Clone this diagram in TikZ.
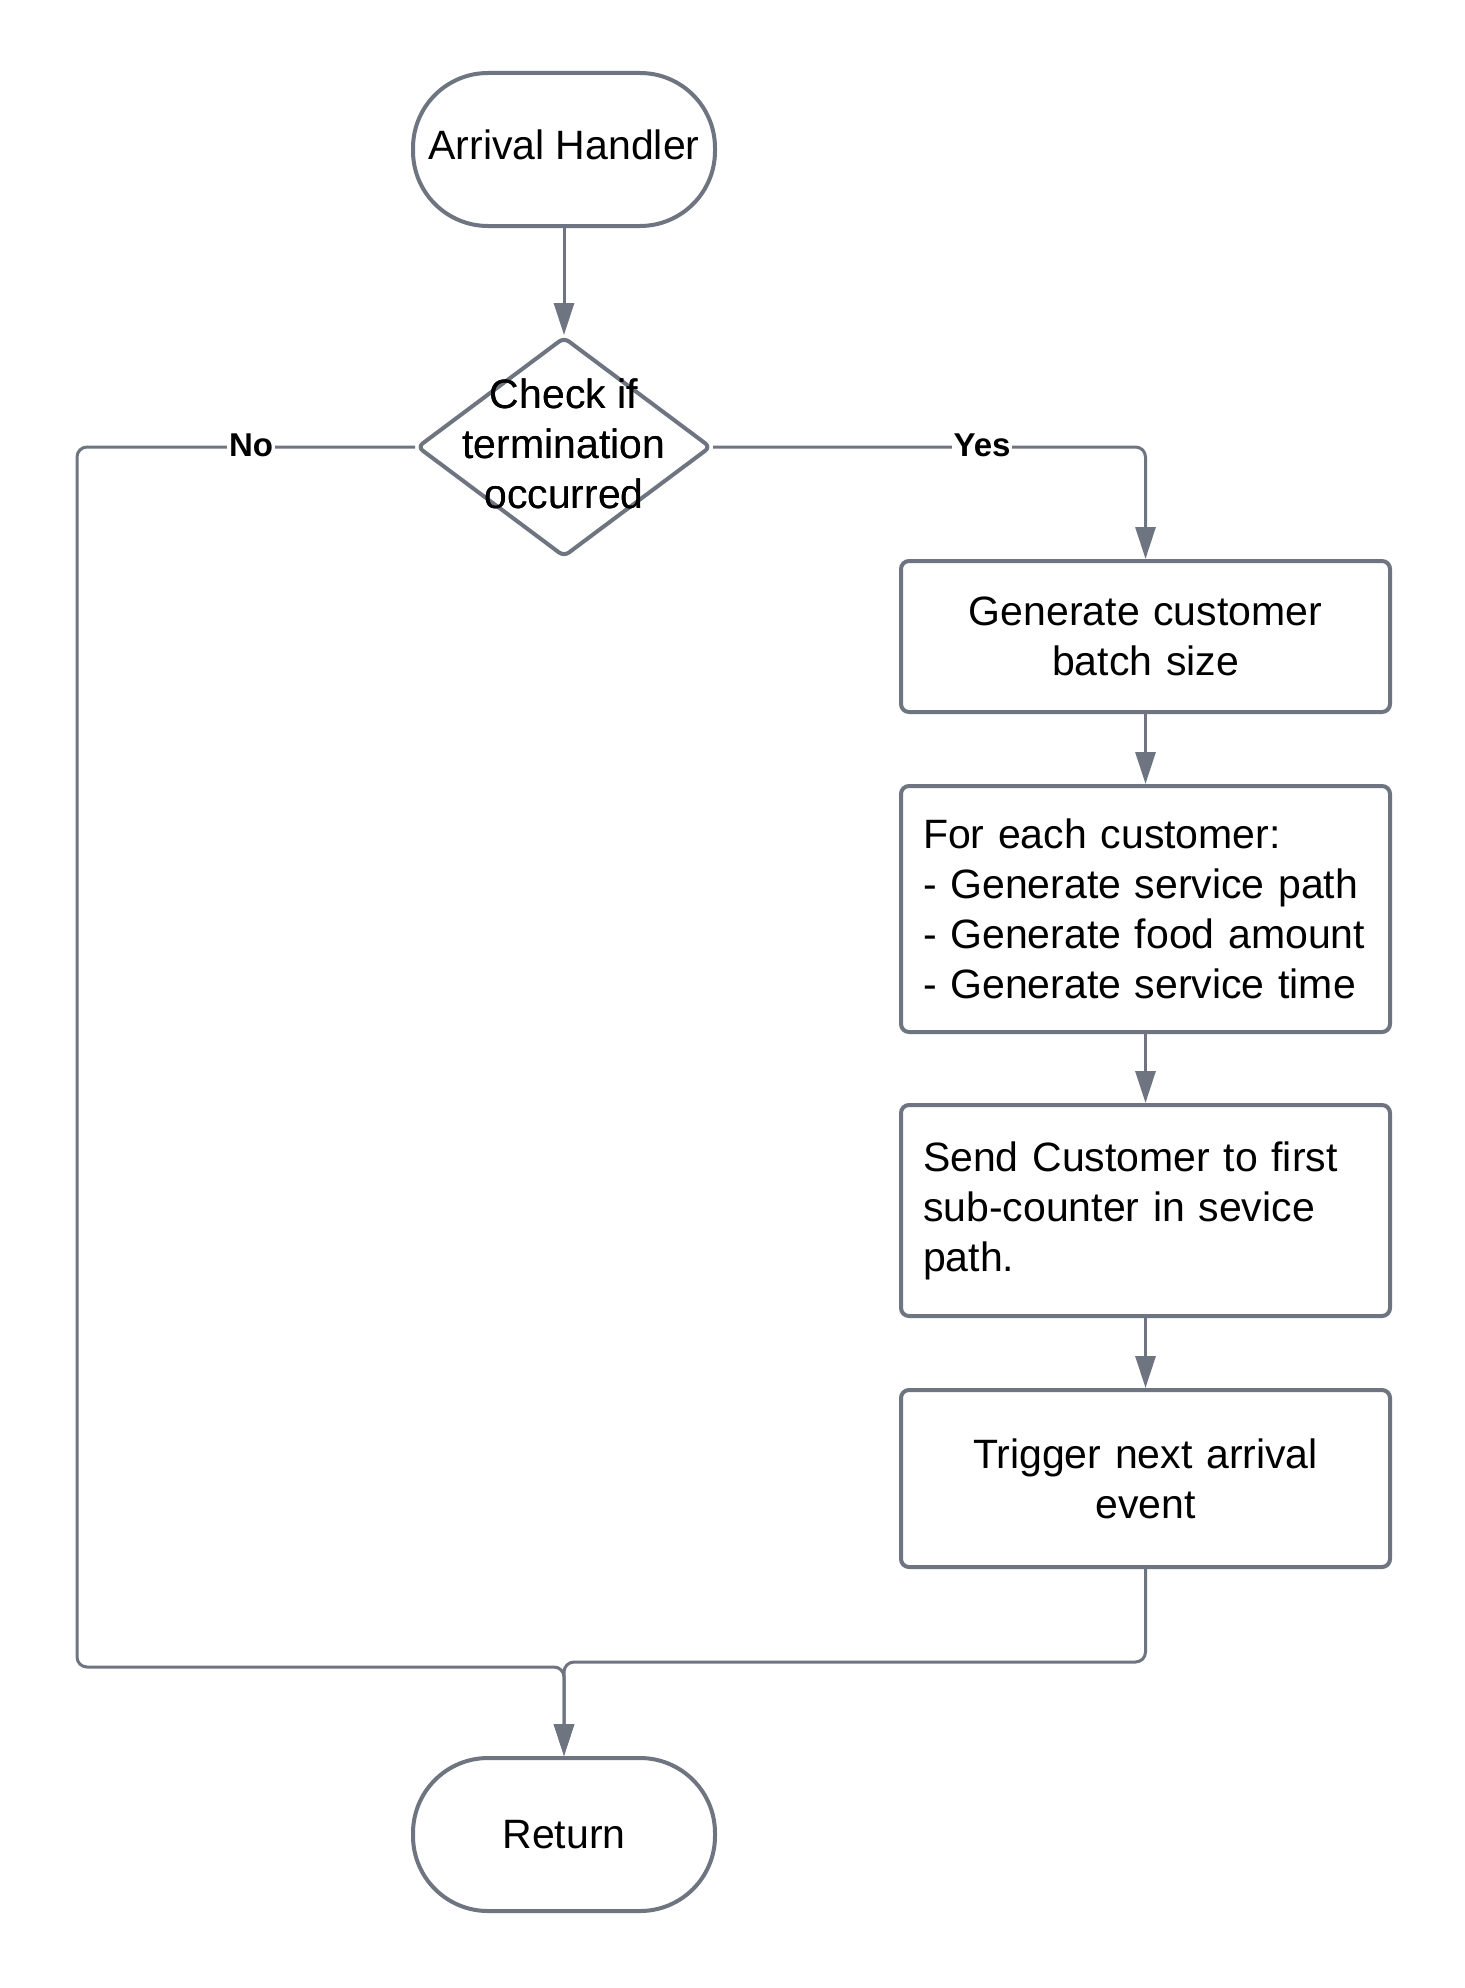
\documentclass[tikz,border=0pt]{standalone}
\usepackage{fontspec}
\setmainfont{Liberation Sans}
\usetikzlibrary{shapes.geometric,arrows.meta}
\definecolor{edge}{RGB}{110,117,129}
\begin{document}
\begin{tikzpicture}[x=1pt,y=-1pt,
  every node/.style={font=\fontsize{41}{50}\selectfont, text=black},
  term/.style={draw=edge, line width=4pt, fill=white, rounded corners=75pt, minimum width=302pt, minimum height=153pt, inner sep=0pt, align=center},
  procbox/.style={draw=edge, line width=4pt, fill=white, rounded corners=8pt, minimum width=489pt, inner xsep=22pt, inner ysep=0pt, text width=445pt},
  decis/.style={draw=edge, line width=4pt, fill=white, diamond, rounded corners=6pt, minimum width=294pt, minimum height=220pt, inner sep=0pt},
  conn/.style={draw=edge, line width=3pt, -{Triangle[length=32pt,width=20pt]}},
  lbl/.style={fill=white, inner sep=2pt, font=\fontsize{33}{38}\selectfont\bfseries}
]
\useasboundingbox (0,0) rectangle (1464,1988);
\fill[white] (0,0) rectangle (1464,1988);

\node[term] (arr) at (564,149.5) {\raisebox{10pt}{Arrival Handler}};
\node[decis] (dia) at (564,447) {};
\node[align=center, inner sep=0pt] (diatext) at (564,444) {Check if\\termination\\occurred};

\node[procbox, align=center, minimum height=151pt] (b1) at (1145.5,636.5) {Generate customer\\batch size};
\node[procbox, align=left, minimum height=246pt] (b2) at (1145.5,909) {For each customer:\\- Generate service path\\- Generate food amount\\- Generate service time};
\node[procbox, align=left, minimum height=211pt] (b3) at (1145.5,1210.5) {\raisebox{3pt}{\parbox{445pt}{Send Customer to first\\sub-counter in sevice\\path.}}};
\node[procbox, align=center, minimum height=177pt] (b4) at (1145.5,1478.5) {\raisebox{4pt}{\parbox{445pt}{\centering Trigger next arrival\\event}}};

\node[term] (ret) at (564,1834.5) {Return};

\coordinate (nocorner) at (77,447);
\coordinate (yescorner) at (1145.5,447);
\coordinate (lowleft) at (77,1667);
\coordinate (joinL) at (564,1667);
\coordinate (lowright) at (1145.5,1662);
\coordinate (joinR) at (564,1662);

\draw[conn] (arr.south) -- (dia.north);
\draw[conn, rounded corners=10pt] (dia.east) -- (yescorner) -- (b1.north);
\draw[conn] (b1.south) -- (b2.north);
\draw[conn] (b2.south) -- (b3.north);
\draw[conn] (b3.south) -- (b4.north);
\draw[conn, rounded corners=10pt] (dia.west) -- (nocorner) -- (lowleft) -- (joinL) -- (ret.north);
\draw[conn, rounded corners=10pt] (b4.south) -- (lowright) -- (joinR) -- (ret.north);

\node[lbl] (nolbl) at (251,445) {No};
\node[lbl] (yeslbl) at (982,445) {Yes};
\node[align=center, inner sep=0pt] at (diatext) {Check if\\termination\\occurred};
\end{tikzpicture}
\end{document}
